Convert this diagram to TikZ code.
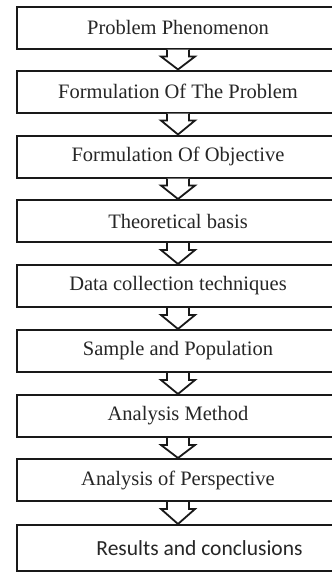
\documentclass[tikz,border=0pt]{standalone}
\usepackage{fontspec}
\setmainfont{Liberation Serif}
\newfontfamily\resfont{Carlito}
\tikzset{
  stepbox/.style={draw=black!90, line width=2pt, fill=white, minimum width=322pt,
    minimum height=42pt, inner sep=0pt, font=\fontsize{20.5}{24}\selectfont, text=black!85},
  downarr/.style={draw=black!90, line width=1.8pt, fill=white, line join=miter},
}
\newcommand{\flowarrow}[2]{%
  \draw[downarr] ($(#1.south)+(-11,0)$) -- ++(0,-7) -- ++(-6,0) -- ($(#2.north)$)
     -- ($(#1.south)+(17,-7)$) -- ++(-6,0) -- ($(#1.south)+(11,0)$);
}
\usetikzlibrary{calc}
\begin{document}
\begin{tikzpicture}[x=1pt,y=1pt]
\useasboundingbox (0,0) rectangle (332,-574);
\begin{scope}
\clip (0,0) rectangle (332,-574);
\node[stepbox] (n1) at (178,-27.5) {Problem Phenomenon};
\node[stepbox] (n2) at (178,-91.5) {Formulation Of The Problem};
\node[stepbox] (n3) at (178,-156.5) {Formulation Of Objective};
\node[stepbox] (n4) at (178,-221) {Theoretical basis};
\node[stepbox] (n5) at (178,-286) {Data collection techniques};
\node[stepbox] (n6) at (178,-351) {Sample and Population};
\node[stepbox] (n7) at (178,-416) {Analysis Method};
\node[stepbox] (n8) at (178,-480) {Analysis of Perspective};
\node[stepbox, minimum height=46pt, font=\resfont\fontsize{21.5}{25}\selectfont] (n9) at (178,-548) {\hspace*{43pt}Results and conclusions};
\flowarrow{n1}{n2}
\flowarrow{n2}{n3}
\flowarrow{n3}{n4}
\flowarrow{n4}{n5}
\flowarrow{n5}{n6}
\flowarrow{n6}{n7}
\flowarrow{n7}{n8}
\flowarrow{n8}{n9}
\end{scope}
\end{tikzpicture}
\end{document}
